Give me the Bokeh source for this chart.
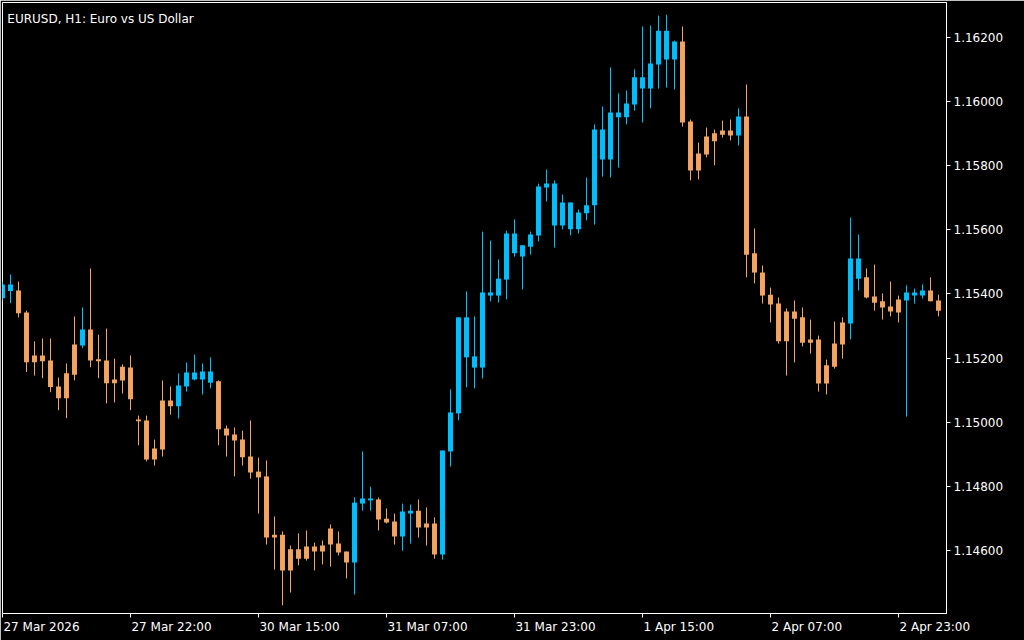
from bokeh.plotting import figure
from bokeh.models import FixedTicker, Label, PrintfTickFormatter, CustomJSTickFormatter, ColumnDataSource
from bokeh.embed import file_html
from bokeh.resources import INLINE

# EURUSD H1 candles (oldest first)
open_ = [1.15387, 1.15409, 1.15411, 1.15342, 1.15208, 1.15208, 1.15192, 1.15111, 1.15152, 1.15242,
         1.15239, 1.15289, 1.15196, 1.15192, 1.15133, 1.15173, 1.15170, 1.15008, 1.15005, 1.14917,
         1.15067, 1.15067, 1.15049, 1.15111, 1.15133, 1.15133, 1.15123, 1.15127, 1.14980, 1.14961,
         1.14945, 1.14892, 1.14845, 1.14830, 1.14648, 1.14648, 1.14602, 1.14602, 1.14611, 1.14611,
         1.14614, 1.14667, 1.14620, 1.14595, 1.14561, 1.14745, 1.14755, 1.14758, 1.14698, 1.14689,
         1.14642, 1.14714, 1.14723, 1.14683, 1.14683, 1.14586, 1.14908, 1.15027, 1.15202, 1.15170,
         1.15170, 1.15395, 1.15395, 1.15445, 1.15527, 1.15517, 1.15548, 1.15583, 1.15733, 1.15614,
         1.15614, 1.15602, 1.15602, 1.15652, 1.15677, 1.15820, 1.15820, 1.15952, 1.15952, 1.15992,
         1.16042, 1.16042, 1.16117, 1.16133, 1.16133, 1.16189, 1.15939, 1.15839, 1.15892, 1.15902,
         1.15911, 1.15911, 1.15895, 1.15955, 1.15527, 1.15467, 1.15398, 1.15370, 1.15345, 1.15345,
         1.15327, 1.15258, 1.15258, 1.15177, 1.15245, 1.15311, 1.15308, 1.15448, 1.15452, 1.15392,
         1.15377, 1.15361, 1.15383, 1.15380, 1.15395, 1.15395, 1.15411, 1.15380]
high = [1.15439, 1.15461, 1.15439, 1.15348, 1.15252, 1.15261, 1.15261, 1.15139, 1.15183, 1.15330,
        1.15358, 1.15480, 1.15273, 1.15292, 1.15198, 1.15180, 1.15208, 1.15020, 1.15020, 1.14945,
        1.15130, 1.15111, 1.15152, 1.15186, 1.15211, 1.15183, 1.15202, 1.15130, 1.14989, 1.14983,
        1.14973, 1.15005, 1.14889, 1.14880, 1.14705, 1.14658, 1.14614, 1.14652, 1.14661, 1.14623,
        1.14630, 1.14680, 1.14658, 1.14595, 1.14764, 1.14908, 1.14798, 1.14764, 1.14730, 1.14714,
        1.14745, 1.14742, 1.14758, 1.14733, 1.14702, 1.14911, 1.15102, 1.15327, 1.15408, 1.15330,
        1.15595, 1.15567, 1.15508, 1.15598, 1.15633, 1.15552, 1.15595, 1.15745, 1.15789, 1.15755,
        1.15711, 1.15686, 1.15664, 1.15764, 1.15930, 1.15986, 1.16108, 1.16027, 1.16036, 1.16102,
        1.16236, 1.16239, 1.16270, 1.16273, 1.16192, 1.16236, 1.15945, 1.15873, 1.15920, 1.15914,
        1.15942, 1.15945, 1.15980, 1.16055, 1.15605, 1.15489, 1.15420, 1.15389, 1.15355, 1.15380,
        1.15358, 1.15320, 1.15270, 1.15195, 1.15314, 1.15327, 1.15639, 1.15586, 1.15480, 1.15492,
        1.15402, 1.15439, 1.15395, 1.15427, 1.15417, 1.15430, 1.15452, 1.15398]
low = [1.15380, 1.15371, 1.15327, 1.15156, 1.15145, 1.15137, 1.15093, 1.15037, 1.15012, 1.15130,
       1.15231, 1.15171, 1.15137, 1.15058, 1.15061, 1.15089, 1.15037, 1.14927, 1.14877, 1.14864,
       1.14892, 1.15023, 1.15011, 1.15095, 1.15130, 1.15086, 1.15105, 1.14927, 1.14892, 1.14830,
       1.14864, 1.14823, 1.14714, 1.14617, 1.14539, 1.14427, 1.14467, 1.14552, 1.14567, 1.14536,
       1.14555, 1.14548, 1.14583, 1.14511, 1.14461, 1.14723, 1.14723, 1.14661, 1.14683, 1.14617,
       1.14598, 1.14620, 1.14639, 1.14614, 1.14573, 1.14570, 1.14861, 1.15005, 1.15108, 1.15105,
       1.15136, 1.15377, 1.15373, 1.15383, 1.15517, 1.15414, 1.15523, 1.15564, 1.15689, 1.15545,
       1.15602, 1.15583, 1.15589, 1.15630, 1.15617, 1.15767, 1.15764, 1.15795, 1.15930, 1.15973,
       1.15936, 1.15980, 1.16042, 1.16045, 1.16039, 1.15923, 1.15755, 1.15758, 1.15827, 1.15802,
       1.15889, 1.15880, 1.15864, 1.15452, 1.15433, 1.15370, 1.15311, 1.15245, 1.15145, 1.15186,
       1.15236, 1.15214, 1.15095, 1.15086, 1.15167, 1.15198, 1.15258, 1.15411, 1.15386, 1.15348,
       1.15320, 1.15330, 1.15311, 1.15017, 1.15370, 1.15386, 1.15377, 1.15330]
close = [1.15430, 1.15430, 1.15340, 1.15187, 1.15187, 1.15190, 1.15109, 1.15074, 1.15074, 1.15148,
         1.15289, 1.15192, 1.15190, 1.15121, 1.15121, 1.15130, 1.15071, 1.15002, 1.14883, 1.14883,
         1.14914, 1.15049, 1.15114, 1.15155, 1.15155, 1.15158, 1.15158, 1.14977, 1.14958, 1.14942,
         1.14890, 1.14842, 1.14827, 1.14639, 1.14639, 1.14536, 1.14536, 1.14573, 1.14573, 1.14595,
         1.14595, 1.14617, 1.14592, 1.14561, 1.14748, 1.14761, 1.14761, 1.14695, 1.14686, 1.14642,
         1.14720, 1.14723, 1.14670, 1.14670, 1.14586, 1.14911, 1.15030, 1.15327, 1.15327, 1.15205,
         1.15405, 1.15405, 1.15448, 1.15589, 1.15589, 1.15552, 1.15586, 1.15736, 1.15745, 1.15745,
         1.15686, 1.15686, 1.15655, 1.15677, 1.15914, 1.15914, 1.15967, 1.15967, 1.15995, 1.16077,
         1.16077, 1.16120, 1.16223, 1.16223, 1.16189, 1.15936, 1.15786, 1.15786, 1.15836, 1.15877,
         1.15898, 1.15895, 1.15955, 1.15523, 1.15467, 1.15395, 1.15367, 1.15252, 1.15252, 1.15323,
         1.15248, 1.15248, 1.15120, 1.15120, 1.15173, 1.15242, 1.15511, 1.15511, 1.15389, 1.15373,
         1.15358, 1.15345, 1.15342, 1.15405, 1.15405, 1.15411, 1.15377, 1.15348]

time_tick_index = [0, 16, 32, 48, 64, 80, 96, 112]
time_tick_labels = ["27 Mar 2026", "27 Mar 22:00", "30 Mar 15:00", "31 Mar 07:00",
                    "31 Mar 23:00", "1 Apr 15:00", "2 Apr 07:00", "2 Apr 23:00"]
price_ticks = [1.146, 1.148, 1.150, 1.152, 1.154, 1.156, 1.158, 1.160, 1.162]

title_text = "EURUSD, H1:  Euro vs US Dollar"

UP = "#00BFFF"
DOWN = "#F4A460"
FONT = "DejaVu Sans"
FONT_PX = 12

n = len(open_)
idx = list(range(n))
colors = [UP if c >= o else DOWN for o, c in zip(open_, close)]
src = ColumnDataSource(dict(
    x=idx, o=open_, h=high, l=low, c=close,
    top=[max(o, c) for o, c in zip(open_, close)],
    bottom=[min(o, c) for o, c in zip(open_, close)],
    color=colors,
))

Y0, Y1 = 1.144016, 1.163109
X0, X1 = 0, 118
FW, FH = 944, 611
p = figure(frame_width=FW, frame_height=FH, x_range=(X0, X1), y_range=(Y0, Y1),
           y_axis_location="right", output_backend="svg", toolbar_location=None,
           background_fill_color="black", border_fill_color="black",
           min_border_left=2, min_border_top=2, min_border_right=78, min_border_bottom=27)
p.grid.visible = False
p.outline_line_color = "white"
p.outline_line_width = 1

p.segment(x0="x", y0="l", x1="x", y1="h", line_color="color", line_width=1, source=src)
p.vbar(x="x", width=0.62, top="top", bottom="bottom", fill_color="color", line_color=None, source=src)

ya = p.yaxis[0]
ya.ticker = FixedTicker(ticks=price_ticks)
ya.formatter = PrintfTickFormatter(format="%.5f")
ya.major_label_text_color = "white"
ya.major_label_text_font = FONT
ya.major_label_text_font_size = f"{FONT_PX}px"
ya.axis_line_color = "white"
ya.major_tick_line_color = "white"
ya.minor_tick_line_color = None
ya.major_tick_out = 4
ya.major_tick_in = 0
ya.major_label_standoff = 3

# time labels start at their tick (left-aligned): the tick marks are the minor ticks,
# the (centred) labels sit on major ticks moved right by half the label width
ADV = {"0": .636, "1": .636, "2": .636, "3": .636, "4": .636, "5": .636, "6": .636,
       "7": .636, "8": .636, "9": .636, " ": .318, ":": .337, "M": .863, "a": .613,
       "r": .411, "A": .684, "p": .635}
px_per_unit = FW / (X1 - X0)
label_pos = [t + (sum(ADV.get(ch, .6) for ch in s) * FONT_PX / 2 + 1) / px_per_unit
             for t, s in zip(time_tick_index, time_tick_labels)]

xa = p.xaxis[0]
xa.ticker = FixedTicker(ticks=label_pos, minor_ticks=time_tick_index)
xa.formatter = CustomJSTickFormatter(args=dict(labels=time_tick_labels),
                                     code="return labels[index] || '';")
xa.axis_line_color = "white"
xa.major_tick_line_color = None
xa.minor_tick_line_color = "white"
xa.major_tick_out = 4
xa.major_tick_in = 0
xa.minor_tick_out = 4
xa.minor_tick_in = 0
xa.major_label_standoff = 2
xa.major_label_text_color = "white"
xa.major_label_text_font = FONT
xa.major_label_text_font_size = f"{FONT_PX}px"

per_px = (Y1 - Y0) / FH
p.add_layout(Label(x=0.6, y=Y1 - 16 * per_px, text=title_text, text_align="left",
                   text_baseline="alphabetic", text_color="white",
                   text_font=FONT, text_font_size=f"{FONT_PX}px"))

open("out.html", "w").write(file_html(p, INLINE))
